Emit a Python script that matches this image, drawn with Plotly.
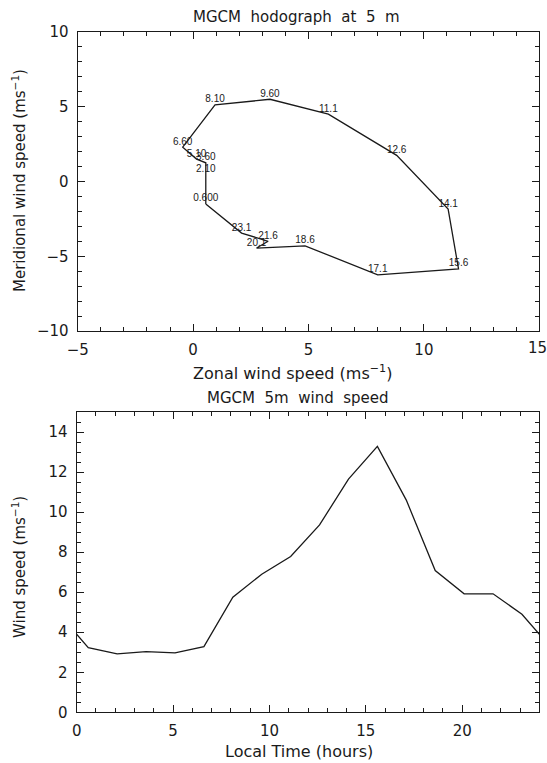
import plotly.graph_objects as go

# ---------------- data ----------------
hours = [0.6, 2.1, 3.6, 5.1, 6.6, 8.1, 9.6, 11.1, 12.6, 14.1, 15.6, 17.1, 18.6, 20.1, 21.6, 23.1]
hour_labels = ["0.600", "2.10", "3.60", "5.10", "6.60", "8.10", "9.60", "11.1",
               "12.6", "14.1", "15.6", "17.1", "18.6", "20.1", "21.6", "23.1"]
zonal = [0.55, 0.55, 0.55, 0.15, -0.45, 0.95, 3.33, 5.86, 8.82, 11.05, 11.5, 8.0, 4.85, 2.75, 3.25, 2.1]
meridional = [-1.5, 0.45, 1.25, 1.5, 2.3, 5.12, 5.5, 4.5, 1.75, -1.85, -5.85, -6.25, -4.3, -4.45, -4.0, -3.45]
speed = [3.23, 2.92, 3.03, 2.97, 3.28, 5.75, 6.9, 7.78, 9.36, 11.65, 13.28, 10.6, 7.08, 5.92, 5.92, 4.9]
zonal_ticks = [-5, 0, 5, 10, 15]

W, H = 547, 763
FONT = "DejaVu Sans"
INK = "#1a1a1a"


def px(x):
    return x / W


def py(y):
    return 1 - y / H


fig = go.Figure()

# hodograph (closed loop over the day)
fig.add_trace(go.Scatter(
    x=zonal + zonal[:1], y=meridional + meridional[:1],
    mode="lines+text", text=hour_labels + [""], textposition="top center",
    textfont=dict(family="Liberation Sans", size=10, color=INK),
    line=dict(color=INK, width=1.3), xaxis="x", yaxis="y", showlegend=False,
    cliponaxis=False,
))

# diurnal wind speed (periodic wrap at both ends)
t_ext = [hours[-1] - 24] + hours + [hours[0] + 24]
s_ext = [speed[-1]] + speed + [speed[0]]
fig.add_trace(go.Scatter(
    x=t_ext, y=s_ext, mode="lines",
    line=dict(color=INK, width=1.3), xaxis="x2", yaxis="y2", showlegend=False,
))

axis_common = dict(
    showgrid=False, zeroline=False, showline=True, linecolor=INK, linewidth=1.2,
    mirror="ticks", ticks="inside", ticklen=7, tickwidth=1, tickcolor=INK,
    tickfont=dict(family=FONT, size=15, color=INK), ticklabelstandoff=5,
    automargin=False,
)


def minor(d):
    return dict(dtick=d, ticks="inside", ticklen=4, tickwidth=1, tickcolor=INK, showgrid=False)


zonal_text = [str(v).replace("-", "−") for v in zonal_ticks[:-1]] + [""]

fig.update_layout(
    width=W, height=H, autosize=False,
    margin=dict(l=0, r=0, t=0, b=0, pad=0),
    paper_bgcolor="white", plot_bgcolor="white",
    xaxis=dict(domain=[px(77.7), px(539.3)], range=[-5, 15],
               tickvals=zonal_ticks, ticktext=zonal_text,
               anchor="y", minor=minor(1), **axis_common),
    yaxis=dict(domain=[py(331), py(32)], range=[-10, 10], dtick=5, tick0=0,
               anchor="x", minor=minor(1), **axis_common),
    xaxis2=dict(domain=[px(76.7), px(539.3)], range=[0, 24], dtick=5, tick0=0,
                anchor="y2", minor=minor(1), **axis_common),
    yaxis2=dict(domain=[py(712.3), py(412)], range=[0, 15], dtick=2, tick0=0,
                anchor="x2", minor=minor(0.5), **axis_common),
)

texts = [
    ("MGCM  hodograph  at  5  m", 296, 17, 0, 15),
    ("Zonal wind speed (ms<sup>−1</sup>)", 292, 372, 0, 16),
    ("Meridional wind speed (ms<sup>−1</sup>)", 19, 181, -90, 15),
    ("MGCM  5m  wind  speed", 298, 398, 0, 15),
    ("Local Time (hours)", 299, 751, 0, 16),
    ("Wind speed (ms<sup>−1</sup>)", 19, 567, -90, 15),
    (str(zonal_ticks[-1]), 537, 348, 0, 15),  # last zonal tick label, kept inside the page
]
for s, x, y, ang, fs in texts:
    fig.add_annotation(text=s, x=px(x), y=py(y), xref="paper", yref="paper",
                       xanchor="center", yanchor="middle", showarrow=False,
                       textangle=ang, font=dict(family=FONT, size=fs, color=INK))

fig.write_html("out.html")
